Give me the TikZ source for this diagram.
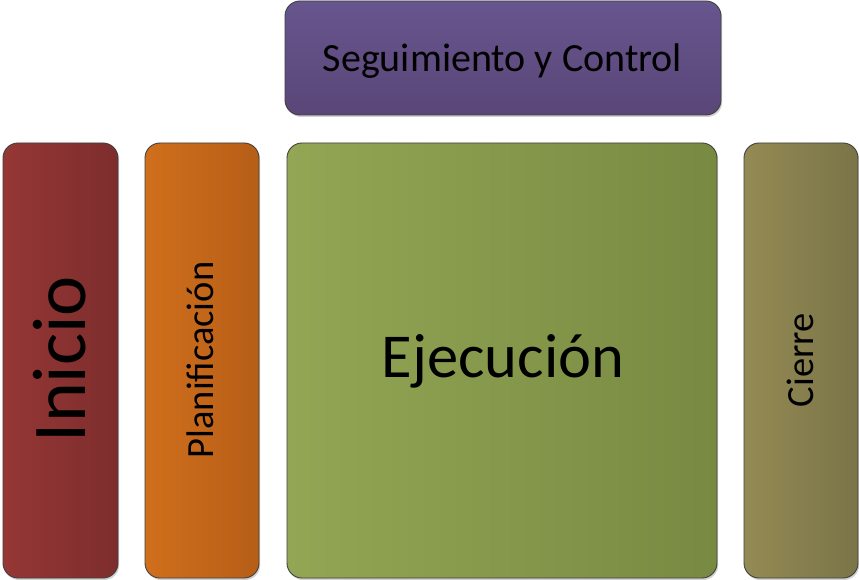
\documentclass[tikz,border=0pt]{standalone}
\usepackage{fontspec}
\setmainfont{Carlito}
\usetikzlibrary{shadows}
\definecolor{redL}{RGB}{149,55,53}
\definecolor{redR}{RGB}{125,45,45}
\definecolor{orgL}{RGB}{208,111,28}
\definecolor{orgR}{RGB}{182,94,23}
\definecolor{grnL}{RGB}{147,166,84}
\definecolor{grnR}{RGB}{120,138,66}
\definecolor{olvL}{RGB}{148,138,84}
\definecolor{olvR}{RGB}{122,116,72}
\definecolor{purT}{RGB}{103,85,142}
\definecolor{purB}{RGB}{90,70,119}
\definecolor{edge}{RGB}{64,64,64}
\tikzset{
  phase/.style={draw=edge, line width=0.9pt, rounded corners=15pt, inner sep=0pt,
    drop shadow={shadow xshift=1.2pt, shadow yshift=-2pt, opacity=0.18, fill=black}},
  lbl/.style={text=black, inner sep=0pt}
}
\begin{document}
\begin{tikzpicture}[x=1pt,y=-1pt]
\useasboundingbox[fill=white] (0,0) rectangle (859,580);
\node[phase, left color=redL, right color=redR, minimum width=115pt, minimum height=435pt] (inicio) at (60.5,360.5) {};
\node[phase, left color=orgL, right color=orgR, minimum width=114pt, minimum height=435pt] (plan) at (202,360.5) {};
\node[phase, left color=grnL, right color=grnR, minimum width=430pt, minimum height=435pt] (ejec) at (502,360.5) {};
\node[phase, left color=olvL, right color=olvR, minimum width=114pt, minimum height=435pt] (cierre) at (801,360.5) {};
\node[phase, top color=purT, bottom color=purB, minimum width=436pt, minimum height=114pt] (seg) at (503,58) {};
\node[lbl, rotate=90, anchor=base] (tinicio) at (85,359) {\fontsize{76}{76}\selectfont Inicio};
\node[lbl, rotate=90, anchor=base] (tplan) at (213,360) {\fontsize{38.5}{38.5}\selectfont Planificación};
\node[lbl, rotate=90, anchor=base] (tcierre) at (813,360) {\fontsize{38.5}{38.5}\selectfont Cierre};
\node[lbl, anchor=base] (tejec) at (503,377) {\fontsize{62.5}{62.5}\selectfont Ejecución};
\node[lbl, anchor=base] (tseg) at (502.5,72) {\fontsize{40}{40}\selectfont Seguimiento y Control};
\end{tikzpicture}
\end{document}
